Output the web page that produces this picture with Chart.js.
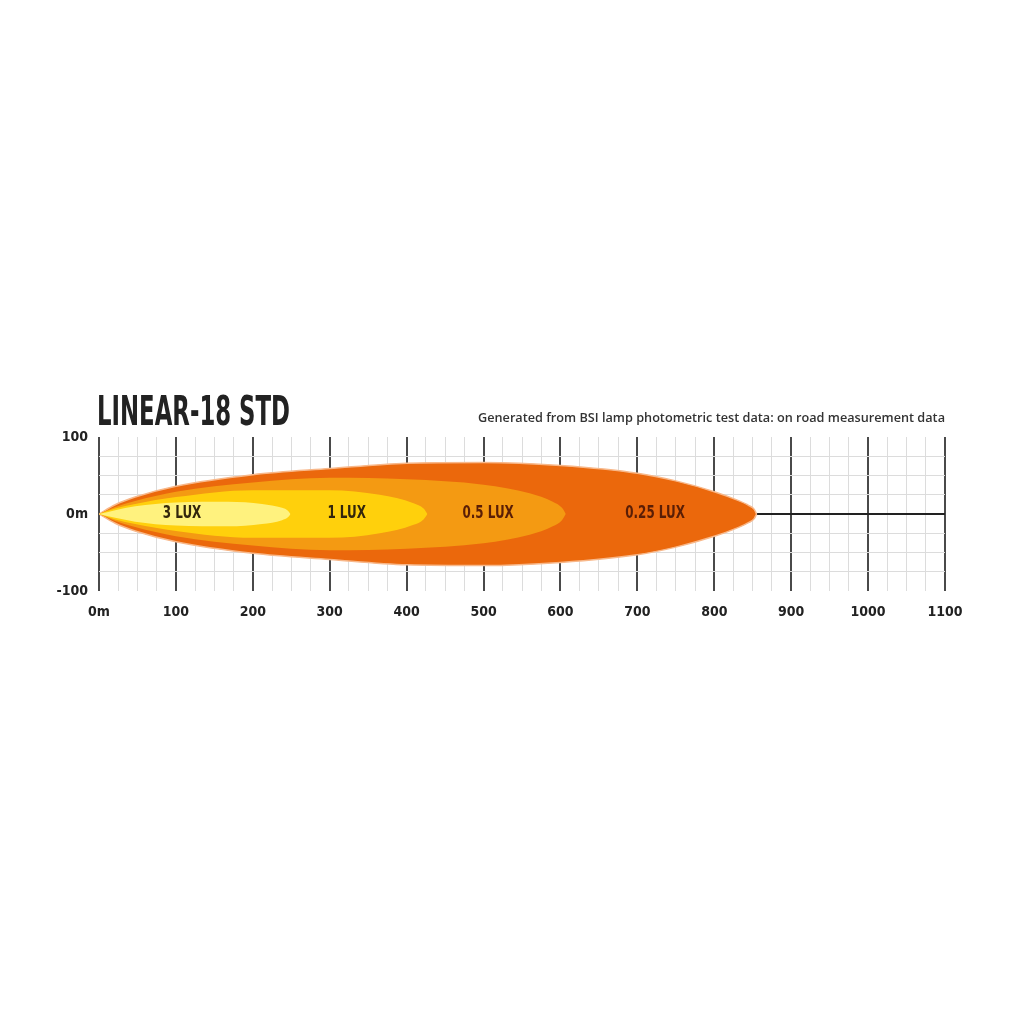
<!DOCTYPE html>
<html lang="en">
<head>
    <meta charset="UTF-8">
    <title>LINEAR-18 STD</title>
    <style>
        body {
            margin: 0;
            padding: 0;
            background-color: #ffffff;
        }

        .chart-container {
            width: 1024px;
            height: 1024px;
        }
    </style>
</head>
<body>

<div class="chart-container">
    <canvas id="beamChart"></canvas>
</div>

<script src="https://cdn.jsdelivr.net/npm/chart.js"></script>

<script>
    // Textos
    const chartTitle = 'LINEAR-18 STD';
    const chartSubtitle = 'Generated from BSI lamp photometric test data: on road measurement data';

    // Escalas (metros)
    const xMin = 0, xMax = 1100, xStep = 25;
    const yMin = -100, yMax = 100, yStep = 25;

    // Contorno 0.25 LUX: distancia y medio ancho
    const dist025 = [0, 21, 47, 100, 200, 300, 400, 500, 600, 700, 750, 800, 830, 845, 852, 855];
    const half025 = [0, 12, 22, 36, 51, 59, 66, 67, 63, 53, 43, 29, 18, 11, 6, 0];

    // Contorno 0.5 LUX
    const dist05 = [0, 21, 47, 100, 200, 300, 400, 500, 560, 590, 602, 607];
    const half05 = [0, 9, 17, 29, 41, 47, 45, 38, 27, 16, 8, 0];

    // Contorno 1 LUX
    const dist1 = [0, 21, 47, 100, 200, 300, 365, 409, 422, 427];
    const half1 = [0, 7, 13, 22, 31, 31, 25, 14, 7, 0];

    // Contorno 3 LUX
    const dist3 = [0, 21, 47, 100, 168, 212, 238, 246, 249];
    const half3 = [0, 5, 10, 15, 16, 13, 8, 4, 0];

    // Etiquetas de los contornos
    const luxLabels = ['3 LUX', '1 LUX', '0.5 LUX', '0.25 LUX'];
    const luxLabelX = [108, 322, 506, 723];

    const narrowFont = '"DejaVu Sans Condensed", "Liberation Sans Narrow", sans-serif';

    function upper(d, h) {
        return d.map((v, i) => ({ x: v, y: h[i] }));
    }

    function lower(d, h) {
        return d.map((v, i) => ({ x: v, y: -h[i] }));
    }

    function beamPair(d, h, color, border) {
        const base = {
            pointRadius: 0,
            cubicInterpolationMode: 'monotone',
            borderColor: border || color,
            borderWidth: border ? 1.5 : 0
        };
        return [
            Object.assign({}, base, { data: upper(d, h), fill: false }),
            Object.assign({}, base, { data: lower(d, h), fill: '-1', backgroundColor: color })
        ];
    }

    // Texto condensado: escala horizontal
    function narrowText(ctx, text, x, y, sx) {
        ctx.save();
        ctx.translate(x, y);
        ctx.scale(sx, 1);
        ctx.fillText(text, 0, 0);
        ctx.restore();
    }

    // Dibuja titulo, subtitulo y etiquetas LUX
    const textPlugin = {
        id: 'beamText',
        afterDatasetsDraw(chart) {
            const ctx = chart.ctx;
            const xs = chart.scales.x;
            const ys = chart.scales.y;
            ctx.save();
            ctx.textAlign = 'center';
            ctx.textBaseline = 'middle';
            ctx.font = 'bold 17px ' + narrowFont;
            luxLabels.forEach((t, i) => {
                ctx.fillStyle = i < 2 ? '#33260c' : '#5a1e06';
                narrowText(ctx, t, xs.getPixelForValue(luxLabelX[i]), ys.getPixelForValue(0), 0.78);
            });
            ctx.restore();
        },
        afterDraw(chart) {
            const ctx = chart.ctx;
            ctx.save();
            ctx.fillStyle = '#222222';
            ctx.textBaseline = 'alphabetic';
            ctx.textAlign = 'left';
            ctx.font = 'bold 41px ' + narrowFont;
            const w = ctx.measureText(chartTitle).width;
            narrowText(ctx, chartTitle, 97, 425, 193 / w);

            ctx.fillStyle = '#333333';
            ctx.textAlign = 'right';
            ctx.font = '600 12.7px "Open Sans", sans-serif';
            ctx.fillText(chartSubtitle, 945, 422);
            ctx.restore();
        }
    };

    const ctx = document.getElementById('beamChart').getContext('2d');
    const beamChart = new Chart(ctx, {
        type: 'line',
        data: {
            datasets: [
                ...beamPair(dist3, half3, '#fff27e'),
                ...beamPair(dist1, half1, '#ffd00c'),
                ...beamPair(dist05, half05, '#f49a12'),
                ...beamPair(dist025, half025, '#eb680c', '#f8b88a')
            ]
        },
        options: {
            responsive: true,
            maintainAspectRatio: false,
            animation: false,
            layout: {
                padding: { left: 39, right: 79, top: 437, bottom: 393 }
            },
            plugins: {
                legend: { display: false },
                tooltip: { enabled: false }
            },
            scales: {
                x: {
                    type: 'linear',
                    min: xMin,
                    max: xMax,
                    afterFit: (s) => { s.height = 40; },
                    border: { display: false },
                    grid: {
                        drawTicks: false,
                        color: (c) => c.tick.value % 100 === 0 ? '#4a4a4a' : '#dcdcdc',
                        lineWidth: (c) => c.tick.value % 100 === 0 ? 2 : 1
                    },
                    ticks: {
                        stepSize: xStep,
                        autoSkip: false,
                        maxRotation: 0,
                        padding: 13,
                        color: '#222222',
                        font: { family: narrowFont, size: 14, weight: 'bold' },
                        callback: (v) => v === 0 ? '0m' : (v % 100 === 0 ? String(v) : '')
                    }
                },
                y: {
                    type: 'linear',
                    min: yMin,
                    max: yMax,
                    afterFit: (s) => { s.width = 60; },
                    border: { display: false },
                    grid: {
                        drawTicks: false,
                        color: (c) => {
                            const v = c.tick.value;
                            if (v === 0) return '#222222';
                            if (Math.abs(v) === 100) return 'rgba(0,0,0,0)';
                            return '#dcdcdc';
                        },
                        lineWidth: (c) => c.tick.value === 0 ? 2 : 1
                    },
                    ticks: {
                        stepSize: yStep,
                        autoSkip: false,
                        padding: 11,
                        color: '#222222',
                        font: { family: narrowFont, size: 14, weight: 'bold' },
                        callback: (v) => v === 0 ? '0m' : (Math.abs(v) === 100 ? String(v) : '')
                    }
                }
            }
        },
        plugins: [textPlugin]
    });
</script>

</body>
</html>
